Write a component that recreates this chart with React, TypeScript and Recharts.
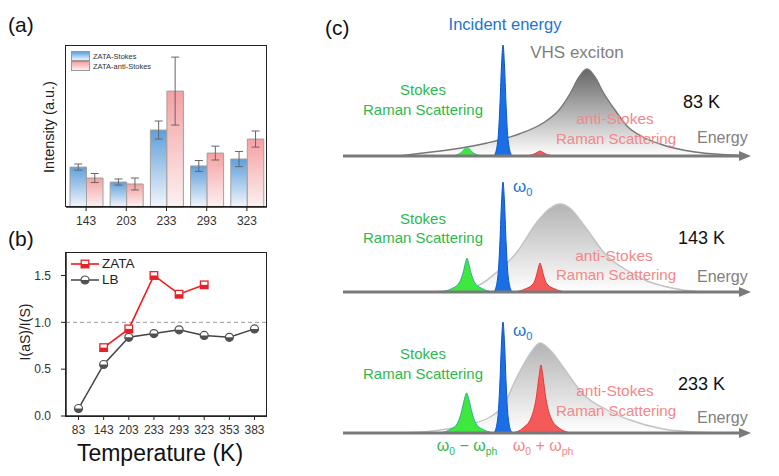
import React from 'react';
import {
  Area,
  Bar,
  BarChart,
  ComposedChart,
  ErrorBar,
  Line,
  LineChart,
  ReferenceLine,
  XAxis,
  YAxis,
} from 'recharts';

const FONT = '"Liberation Sans", Arial, Helvetica, sans-serif';

// (a) Stokes / anti-Stokes intensities (a.u.)
const A_TEMPS = ['143', '203', '233', '293', '323'];
const A_STOKES = [24.8, 15.5, 47.8, 25.5, 29.8];
const A_STOKES_ERR = [1.9, 1.9, 5.6, 3.4, 4.7];
const A_ANTI = [18.0, 14.3, 72.0, 33.5, 42.2];
const A_ANTI_ERR = [2.8, 3.7, 21.1, 4.3, 5.0];

// (b) I(aS)/I(S) ratio
const B_TEMPS = ['83', '143', '203', '233', '293', '323', '353', '383'];
const B_ZATA = [null, 0.73, 0.93, 1.5, 1.3, 1.4, null, null];
const B_LB = [0.08, 0.55, 0.84, 0.88, 0.92, 0.86, 0.84, 0.93];
const B_TICKS = [0, 0.5, 1, 1.5];

// (c) schematic spectra, [energy, intensity]
const VHS_83 = [[14, 0], [20, 3], [28, 7], [36, 13], [44, 22], [50, 33], [54, 46], [57, 64], [59, 79], [61, 87], [63, 79], [65, 64], [68, 46], [71, 30], [75, 19], [80, 11], [88, 4], [95, 1.5], [100, 0.5]];
const GREEN_83 = [[27, 0], [29, 2], [30.2, 6], [31, 9], [31.8, 6], [33, 2], [35, 0]];
const BLUE_83 = [[37.8, 0], [38.7, 15], [39.2, 48], [39.6, 88], [40, 111], [40.4, 88], [40.8, 48], [41.3, 15], [42.2, 0]];
const RED_83 = [[45.5, 0], [47.5, 1.5], [48.5, 3.5], [49.25, 5], [50, 3.5], [51, 1.5], [53, 0]];

const VHS_143 = [[22, 0], [28, 2], [33.5, 6], [38.5, 20], [43.5, 40], [48.5, 70], [51.5, 83], [54.25, 88], [57, 83], [60, 68], [66, 36], [71.75, 20], [76, 11], [80, 6], [85, 2], [90, 0]];
const GREEN_143 = [[24.5, 0], [27, 3], [29, 9], [30, 19], [30.6, 29], [31, 34], [31.4, 29], [32, 19], [33, 9], [35, 3], [37.5, 0]];
const BLUE_143 = [[37.8, 0], [38.7, 15], [39.2, 47], [39.6, 87], [40, 110], [40.4, 87], [40.8, 47], [41.3, 15], [42.2, 0]];
const RED_143 = [[43, 0], [45.5, 3], [47.5, 8], [48.4, 17], [48.9, 25], [49.25, 29], [49.6, 25], [50.1, 17], [51, 8], [53, 3], [55.5, 0]];

const VHS_233 = [[14, 0], [20, 1], [26, 4], [32, 9], [36.75, 16], [40, 27], [43.5, 56], [46.75, 79], [49.25, 90], [52, 82], [55, 66], [60, 39], [66, 23], [71.75, 13], [80, 4], [88, 1], [94, 0]];
const GREEN_233 = [[24, 0], [26.5, 3], [28.5, 9], [29.6, 21], [30.3, 33], [30.9, 40], [31.5, 33], [32.2, 21], [33.3, 9], [35.3, 3], [38, 0]];
const BLUE_233 = [[37.8, 0], [38.7, 15], [39.2, 48], [39.6, 88], [40, 111], [40.4, 88], [40.8, 48], [41.3, 15], [42.2, 0]];
const RED_233 = [[42.5, 0], [45, 5], [47, 15], [48.3, 35], [49, 56], [49.5, 68], [50, 56], [50.7, 35], [52, 15], [54, 5], [57, 0]];

const aData = A_TEMPS.map((t, i) => ({
  t,
  stokes: A_STOKES[i],
  stokesErr: A_STOKES_ERR[i],
  anti: A_ANTI[i],
  antiErr: A_ANTI_ERR[i],
}));

const bData = B_TEMPS.map((t, i) => ({ t, zata: B_ZATA[i], lb: B_LB[i] }));

const toPts = (arr: number[][]) => arr.map(([e, i]) => ({ e, i }));

const RED = '#e8202a';
const DARK = '#505050';

function HalfSquare(props: any) {
  const { cx, cy, index } = props;
  if (cx == null || cy == null || props.value == null) return <g key={`s-${index}`} />;
  const s = 3.8;
  return (
    <g key={`s-${index}`}>
      <rect x={cx - s} y={cy - s} width={2 * s} height={2 * s} fill="#fff" stroke={RED} strokeWidth={1.3} />
      <rect x={cx - s} y={cy} width={2 * s} height={s} fill={RED} />
    </g>
  );
}

function HalfCircle(props: any) {
  const { cx, cy, index } = props;
  if (cx == null || cy == null) return <g key={`c-${index}`} />;
  const r = 4;
  return (
    <g key={`c-${index}`}>
      <circle cx={cx} cy={cy} r={r} fill="#fff" stroke={DARK} strokeWidth={1.2} />
      <path d={`M${cx - r},${cy} A${r},${r} 0 0 0 ${cx + r},${cy} Z`} fill={DARK} />
    </g>
  );
}

function Txt({ x, y, children, color = '#111', size = 15, center = true, style = {} }: any) {
  return (
    <div
      style={{
        position: 'absolute',
        left: x,
        top: y,
        transform: center ? 'translate(-50%, -50%)' : 'translate(0, -50%)',
        color,
        fontSize: size,
        fontFamily: FONT,
        lineHeight: 1,
        whiteSpace: 'nowrap',
        textAlign: 'center',
        ...style,
      }}
    >
      {children}
    </div>
  );
}

const arrowShape = (p: any) => {
  const { x1, y1, x2 } = p;
  return (
    <g>
      <line x1={x1} y1={y1} x2={x2 - 8} y2={y1} stroke="#7a7a7a" strokeWidth={3.2} />
      <polygon points={`${x2},${y1} ${x2 - 12},${y1 - 5} ${x2 - 12},${y1 + 5}`} fill="#7a7a7a" />
    </g>
  );
};

interface RowProps {
  id: string;
  top: number;
  vhs: number[][];
  green: number[][];
  blue: number[][];
  red: number[][];
  dark?: boolean;
}

function SpectrumRow({ id, top, vhs, green, blue, red, dark }: RowProps) {
  return (
    <div style={{ position: 'absolute', left: 343, top }}>
      <ComposedChart width={418} height={126} margin={{ top: 0, right: 10, bottom: 6, left: 0 }}>
        <defs>
          <linearGradient id={`vhs-${id}`} x1="0" y1="0" x2="0" y2="1">
            <stop offset="0%" stopColor={dark ? '#666666' : '#b4b4b4'} />
            <stop offset="100%" stopColor="#ffffff" />
          </linearGradient>
        </defs>
        <XAxis type="number" dataKey="e" domain={[0, 102]} hide />
        <YAxis type="number" domain={[0, 120]} hide />
        <Area
          data={toPts(vhs)}
          dataKey="i"
          type="monotone"
          stroke={dark ? '#777' : '#c2c2c2'}
          strokeWidth={1.4}
          fill={`url(#vhs-${id})`}
          fillOpacity={1}
          isAnimationActive={false}
        />
        <Area data={toPts(green)} dataKey="i" type="monotone" stroke="#2fae9c" strokeWidth={1} fill="#3ee83e" fillOpacity={1} isAnimationActive={false} />
        <Area data={toPts(blue)} dataKey="i" type="monotone" stroke="#0d55c8" strokeWidth={1} fill="#1b6fe6" fillOpacity={1} isAnimationActive={false} />
        <Area data={toPts(red)} dataKey="i" type="monotone" stroke="#e33a3a" strokeWidth={1} fill="#f45a5a" fillOpacity={1} isAnimationActive={false} />
        <ReferenceLine segment={[{ x: 0, y: 0 }, { x: 102, y: 0 }]} shape={arrowShape} ifOverflow="visible" />
      </ComposedChart>
    </div>
  );
}

const GREEN_TXT = '#2fb84f';
const PINK_TXT = '#f28888';
const BLUE_TXT = '#1c74d4';
const GRAY_TXT = '#808080';

const Omega0 = () => (
  <span>
    ω<sub style={{ fontSize: '0.65em', verticalAlign: '-0.35em' }}>0</sub>
  </span>
);
const OmegaPh = () => (
  <span>
    ω<sub style={{ fontSize: '0.65em', verticalAlign: '-0.35em' }}>ph</sub>
  </span>
);

export default function App() {
  return (
    <div style={{ position: 'absolute', left: 0, top: 0, width: 779, height: 476, background: '#fff', fontFamily: FONT, overflow: 'hidden' }}>
      {/* ---------- (a) ---------- */}
      <Txt x={8} y={24} size={21} center={false}>(a)</Txt>
      <div style={{ position: 'absolute', left: 0, top: 0 }}>
        <BarChart width={280} height={240} data={aData} margin={{ top: 46, right: 13, left: 66, bottom: 8 }} barGap={0} barSize={16.5}>
          <defs>
            <linearGradient id="gBlue" x1="0" y1="0" x2="0" y2="1">
              <stop offset="0%" stopColor="#5e9fdc" />
              <stop offset="100%" stopColor="#f3f6fb" />
            </linearGradient>
            <linearGradient id="gPink" x1="0" y1="0" x2="0" y2="1">
              <stop offset="0%" stopColor="#f6a0a2" />
              <stop offset="100%" stopColor="#fcf1f1" />
            </linearGradient>
          </defs>
          <XAxis
            dataKey="t"
            height={25}
            tick={{ fontSize: 12, fill: '#333' }}
            tickSize={4}
            tickMargin={5}
            axisLine={{ stroke: '#222', strokeWidth: 1.5 }}
            tickLine={{ stroke: '#222' }}
          />
          <YAxis hide domain={[0, 100]} />
          <Bar dataKey="stokes" fill="url(#gBlue)" stroke="#a0a0a0" strokeWidth={1} isAnimationActive={false}>
            <ErrorBar dataKey="stokesErr" width={4} stroke="#666" strokeWidth={1} />
          </Bar>
          <Bar dataKey="anti" fill="url(#gPink)" stroke="#a0a0a0" strokeWidth={1} isAnimationActive={false}>
            <ErrorBar dataKey="antiErr" width={4} stroke="#666" strokeWidth={1} />
          </Bar>
        </BarChart>
      </div>
      <div style={{ position: 'absolute', left: 65, top: 45, width: 202, height: 162, border: '1.5px solid #222', boxSizing: 'border-box', pointerEvents: 'none' }} />
      <div style={{ position: 'absolute', left: 71, top: 51, fontSize: 7.5, color: '#333', lineHeight: '9px' }}>
        <div style={{ display: 'flex', alignItems: 'center' }}>
          <span style={{ width: 17, height: 8, background: 'linear-gradient(#5e9fdc, #eef3fa)', border: '0.5px solid #999', marginRight: 3 }} />
          ZATA-Stokes
        </div>
        <div style={{ display: 'flex', alignItems: 'center' }}>
          <span style={{ width: 17, height: 8, background: 'linear-gradient(#f6a0a2, #fcefef)', border: '0.5px solid #999', marginRight: 3 }} />
          ZATA-anti-Stokes
        </div>
      </div>
      <Txt x={49} y={127} size={14.5} style={{ transform: 'translate(-50%, -50%) rotate(-90deg)', color: '#222' }}>
        Intensity (a.u.)
      </Txt>

      {/* ---------- (b) ---------- */}
      <Txt x={8} y={238} size={21} center={false}>(b)</Txt>
      <div style={{ position: 'absolute', left: 0, top: 220 }}>
        <LineChart width={280} height={226} data={bData} margin={{ top: 33, right: 13, left: 0, bottom: 5 }}>
          <XAxis
            dataKey="t"
            height={25}
            padding={{ left: 12.5, right: 12.5 }}
            tick={{ fontSize: 12, fill: '#333' }}
            tickSize={4}
            tickMargin={5}
            interval={0}
            axisLine={{ stroke: '#222', strokeWidth: 1.5 }}
            tickLine={{ stroke: '#222' }}
          />
          <YAxis
            width={66}
            domain={[0, 1.74]}
            ticks={B_TICKS}
            tickFormatter={(v: number) => v.toFixed(1)}
            tick={{ fontSize: 12, fill: '#333' }}
            tickSize={5}
            tickMargin={10}
            axisLine={{ stroke: '#222', strokeWidth: 1.5 }}
            tickLine={{ stroke: '#222' }}
          />
          <ReferenceLine y={1} stroke="#9a9a9a" strokeDasharray="4 3" strokeWidth={1} />
          <Line dataKey="lb" stroke="#444" strokeWidth={1.5} dot={HalfCircle} isAnimationActive={false} />
          <Line dataKey="zata" stroke="#f21c1c" strokeWidth={1.6} dot={HalfSquare} connectNulls={false} isAnimationActive={false} />
        </LineChart>
      </div>
      <div style={{ position: 'absolute', left: 65, top: 252, width: 202, height: 164.5, border: '1.5px solid #222', boxSizing: 'border-box', pointerEvents: 'none' }} />
      <div style={{ position: 'absolute', left: 71, top: 256, fontSize: 13.5, color: '#222', lineHeight: '16px' }}>
        <div style={{ display: 'flex', alignItems: 'center' }}>
          <svg width={28} height={12} style={{ marginRight: 3 }}>
            <line x1={0} y1={6} x2={28} y2={6} stroke="#f21c1c" strokeWidth={1.6} />
            <HalfSquare cx={14} cy={6} value={1} index={0} />
          </svg>
          ZATA
        </div>
        <div style={{ display: 'flex', alignItems: 'center' }}>
          <svg width={28} height={12} style={{ marginRight: 3 }}>
            <line x1={0} y1={6} x2={28} y2={6} stroke="#444" strokeWidth={1.5} />
            <HalfCircle cx={14} cy={6} index={0} />
          </svg>
          LB
        </div>
      </div>
      <Txt x={25} y={332} size={14} style={{ transform: 'translate(-50%, -50%) rotate(-90deg)', color: '#222' }}>
        I(aS)/I(S)
      </Txt>
      <Txt x={160} y={453} size={23} color="#111">Temperature (K)</Txt>

      {/* ---------- (c) ---------- */}
      <Txt x={325} y={27} size={21} center={false}>(c)</Txt>

      <SpectrumRow id="r1" top={36} vhs={VHS_83} green={GREEN_83} blue={BLUE_83} red={RED_83} dark />
      <SpectrumRow id="r2" top={172} vhs={VHS_143} green={GREEN_143} blue={BLUE_143} red={RED_143} />
      <SpectrumRow id="r3" top={313} vhs={VHS_233} green={GREEN_233} blue={BLUE_233} red={RED_233} />

      {/* row 1 labels */}
      <Txt x={505} y={24} size={16.5} color={BLUE_TXT}>Incident energy</Txt>
      <Txt x={577} y={52} size={17} color={GRAY_TXT}>VHS exciton</Txt>
      <Txt x={423} y={89} size={15} color={GREEN_TXT}>Stokes</Txt>
      <Txt x={423} y={109} size={15} color={GREEN_TXT}>Raman Scattering</Txt>
      <Txt x={683} y={102} size={18} center={false}>83 K</Txt>
      <Txt x={615} y={119} size={15.5} color={PINK_TXT}>anti-Stokes</Txt>
      <Txt x={616} y={138} size={15} color={PINK_TXT}>Raman Scattering</Txt>
      <Txt x={697} y={138} size={16} color={GRAY_TXT} center={false}>Energy</Txt>

      {/* row 2 labels */}
      <Txt x={513} y={188} size={17} color={BLUE_TXT} center={false}><Omega0 /></Txt>
      <Txt x={423} y={218} size={15} color={GREEN_TXT}>Stokes</Txt>
      <Txt x={423} y={237} size={15} color={GREEN_TXT}>Raman Scattering</Txt>
      <Txt x={678} y={238} size={18} center={false}>143 K</Txt>
      <Txt x={614} y={256} size={15.5} color={PINK_TXT}>anti-Stokes</Txt>
      <Txt x={616} y={274} size={15} color={PINK_TXT}>Raman Scattering</Txt>
      <Txt x={697} y={277} size={16} color={GRAY_TXT} center={false}>Energy</Txt>

      {/* row 3 labels */}
      <Txt x={513} y={332} size={17} color={BLUE_TXT} center={false}><Omega0 /></Txt>
      <Txt x={423} y={353} size={15} color={GREEN_TXT}>Stokes</Txt>
      <Txt x={423} y={373} size={15} color={GREEN_TXT}>Raman Scattering</Txt>
      <Txt x={678} y={384} size={18} center={false}>233 K</Txt>
      <Txt x={615} y={391} size={15.5} color={PINK_TXT}>anti-Stokes</Txt>
      <Txt x={616} y={410} size={15} color={PINK_TXT}>Raman Scattering</Txt>
      <Txt x={697} y={418} size={16} color={GRAY_TXT} center={false}>Energy</Txt>
      <Txt x={467} y={448} size={16} color={GREEN_TXT}>
        <Omega0 /> − <OmegaPh />
      </Txt>
      <Txt x={543} y={448} size={16} color={PINK_TXT}>
        <Omega0 /> + <OmegaPh />
      </Txt>
    </div>
  );
}
